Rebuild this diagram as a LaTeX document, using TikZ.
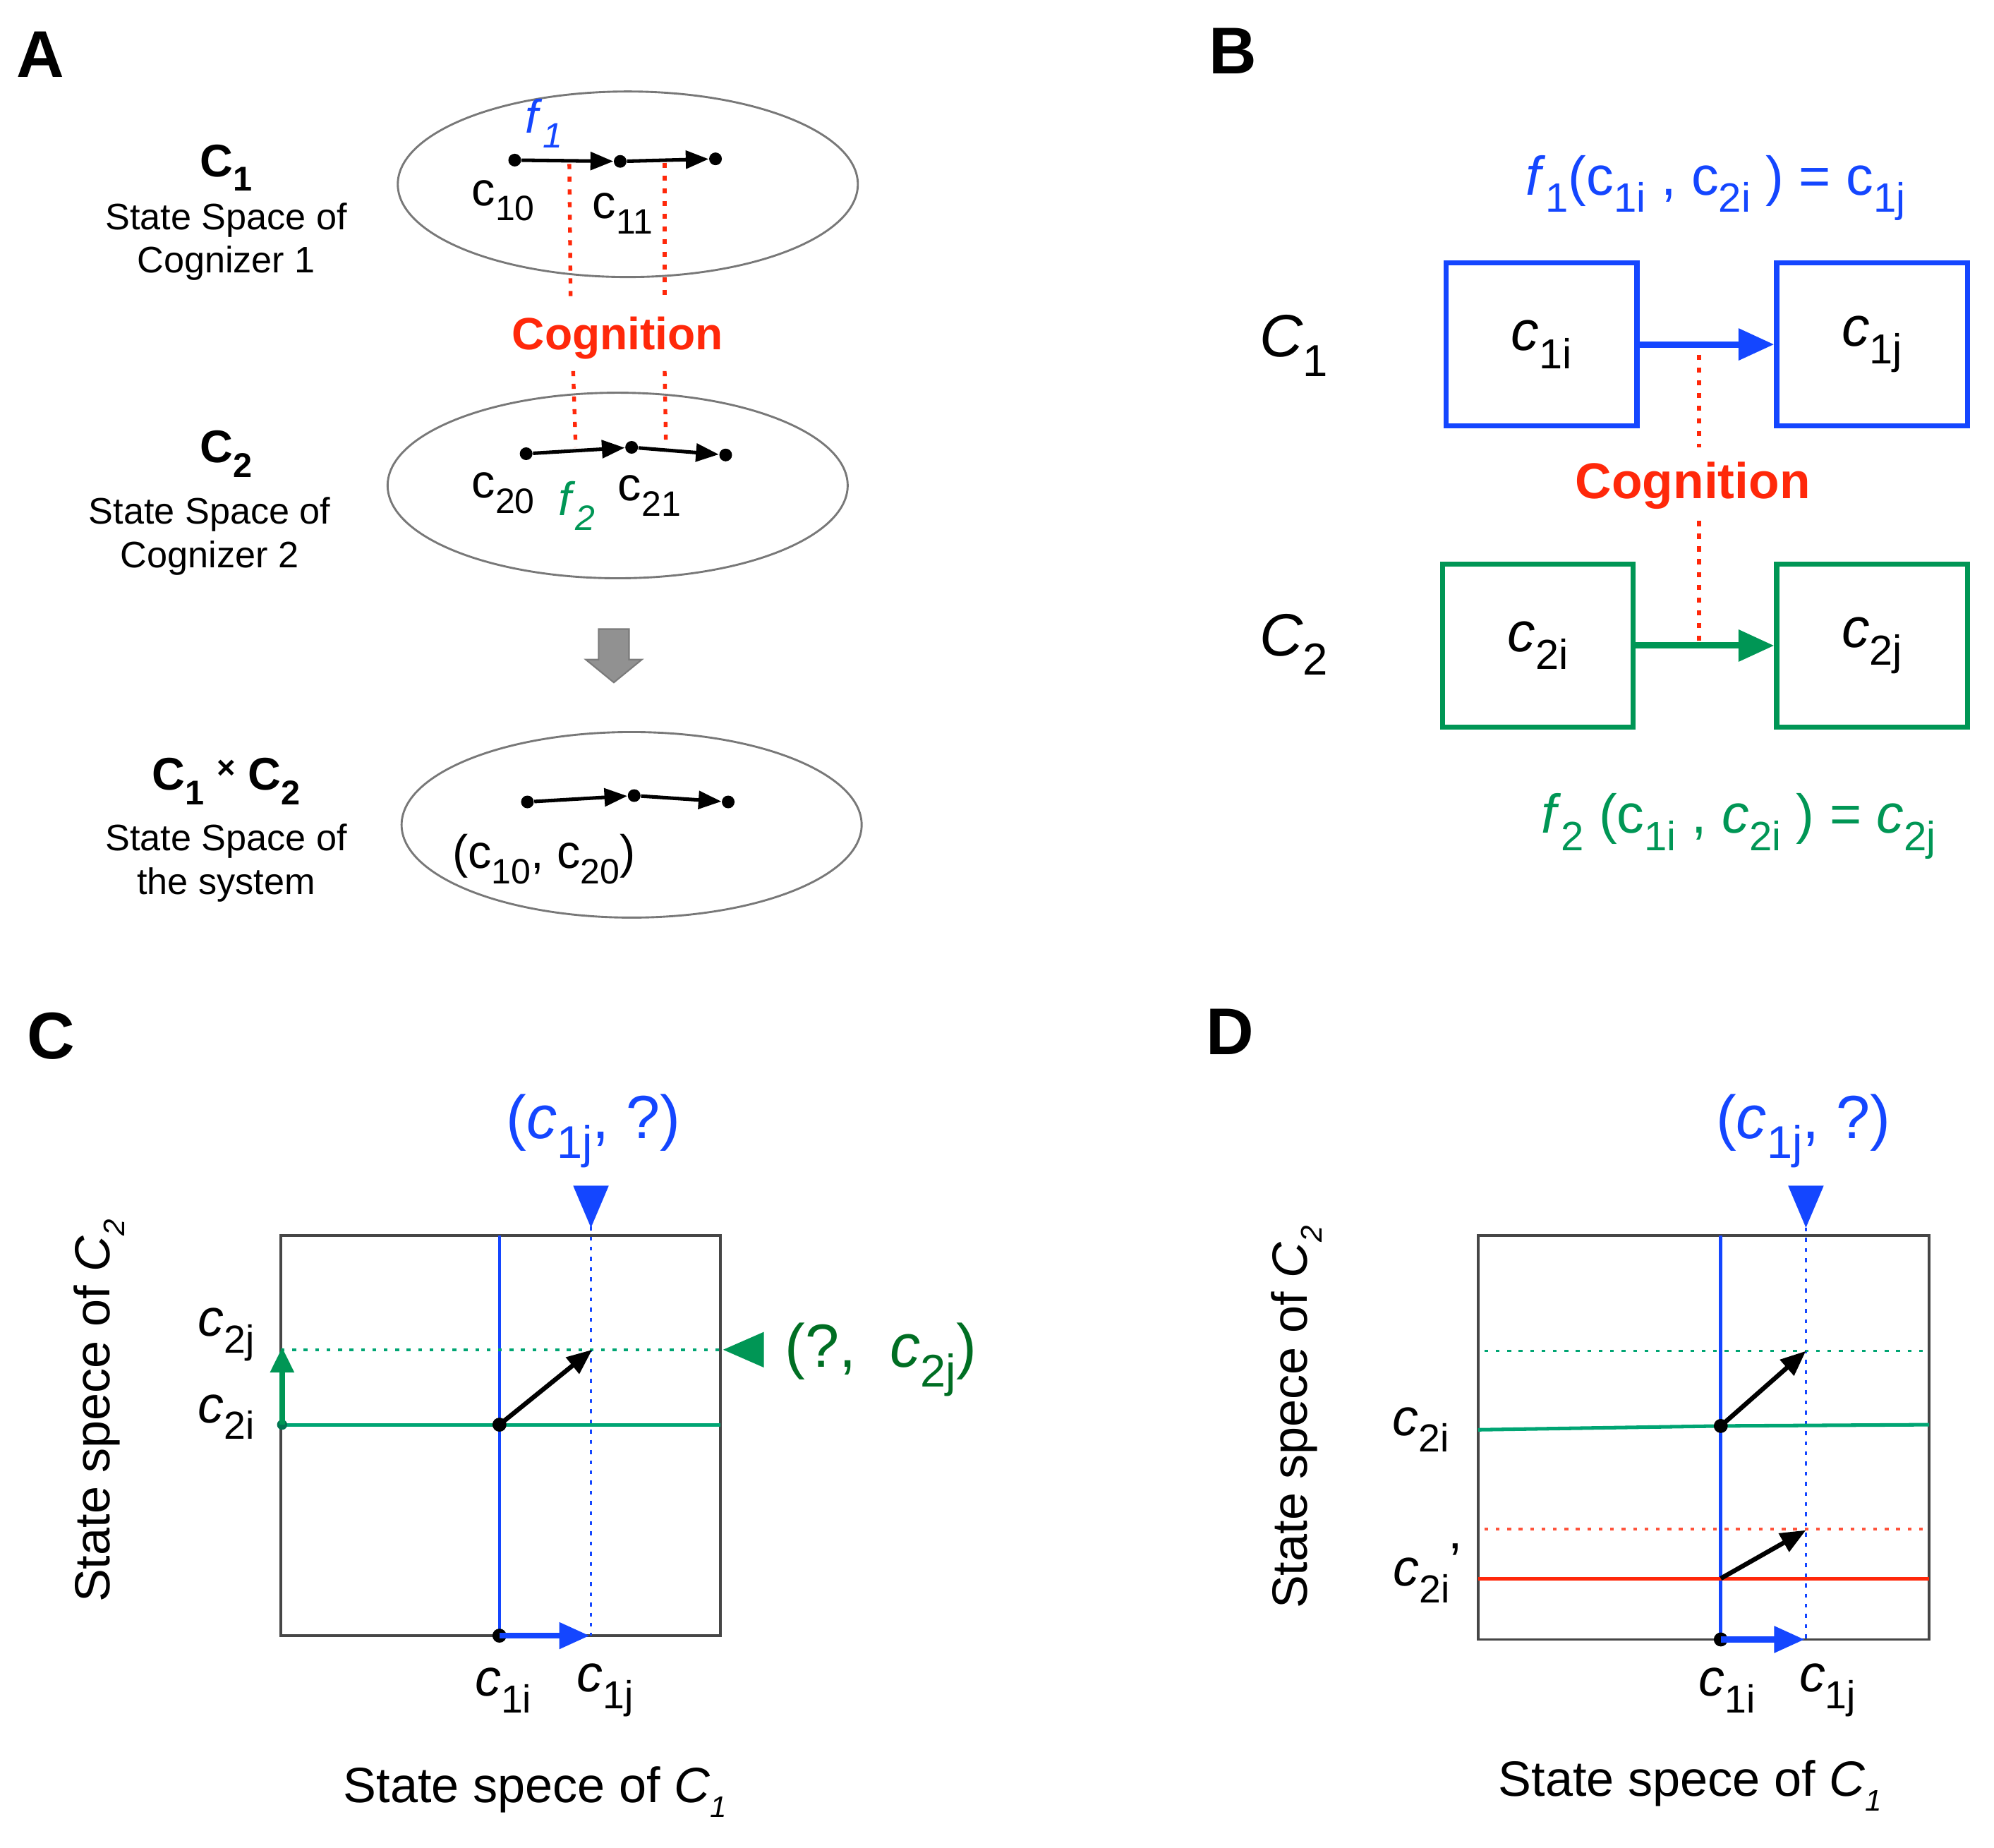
\documentclass[tikz,border=0pt]{standalone}
\usepackage{fontspec}
\setmainfont{Liberation Sans}
\usepackage{graphicx}
\usetikzlibrary{shapes.geometric,arrows.meta}
\definecolor{myblue}{RGB}{20,70,255}
\definecolor{mygreen}{RGB}{0,150,85}
\definecolor{myteal}{RGB}{0,165,115}
\definecolor{mydkgreen}{RGB}{0,110,35}
\definecolor{myred}{RGB}{255,40,10}
\definecolor{ellgray}{RGB}{120,120,120}
\definecolor{boxgray}{RGB}{70,70,70}
\definecolor{arrgray}{RGB}{145,145,145}
\newcommand{\lsb}[1]{\raisebox{-0.32em}{\scalebox{0.75}{#1}}}
\newcommand{\ssb}[1]{\raisebox{-0.3em}{\scalebox{0.6}{#1}}}
\begin{document}
\begin{tikzpicture}[x=0.5pt,y=-0.5pt,
  panel/.style={font=\fontsize{26}{30}\selectfont\bfseries, inner sep=0pt},
  boldC/.style={font=\fontsize{18}{20}\selectfont\bfseries, inner sep=0pt},
  state/.style={font=\fontsize{14.5}{17}\selectfont, align=center, inner sep=0pt},
  ell/.style={draw=ellgray, line width=0.8pt, ellipse, minimum width=181pt, minimum height=73pt, inner sep=0pt},
  dot/.style={circle, fill=black, inner sep=0pt, minimum size=5pt},
  blkarr/.style={-{Triangle[length=9pt,width=7pt]}, line width=1.4pt, black},
  cogdot/.style={myred, line width=1.5pt, dash pattern=on 2pt off 3pt},
  cogA/.style={text=myred, font=\fontsize{17.8}{20}\selectfont\bfseries, inner sep=0pt},
  cogB/.style={text=myred, font=\fontsize{19.8}{22}\selectfont\bfseries, inner sep=0pt},
  stt/.style={font=\fontsize{18.5}{22}\selectfont, inner sep=0pt},
  bigC/.style={font=\fontsize{23.5}{28}\selectfont, inner sep=0pt},
  bbox/.style={draw=myblue, line width=2pt, minimum width=75pt, minimum height=64pt, font=\fontsize{22}{26}\selectfont, inner sep=0pt},
  gbox/.style={bbox, draw=mygreen},
  barr/.style={line width=2.5pt, -{Triangle[length=14pt,width=12pt]}},
  eqn/.style={font=\fontsize{21.5}{25}\selectfont, inner sep=0pt},
  axlab/.style={font=\fontsize{19.5}{23}\selectfont, inner sep=0pt},
  cl/.style={font=\fontsize{20.5}{24}\selectfont, inner sep=0pt},
  ql/.style={font=\fontsize{24}{28}\selectfont, inner sep=0pt},
  frame/.style={draw=boxgray, line width=1pt, inner sep=0pt},
  vsolid/.style={myblue, line width=1.3pt},
  vdot/.style={myblue, line width=1pt, dash pattern=on 1.5pt off 2.5pt},
  gsolid/.style={myteal, line width=1.4pt},
  gdot/.style={myteal, line width=1pt, dash pattern=on 1.5pt off 3pt},
  rsolid/.style={myred, line width=1.4pt},
  rdot/.style={myred!80, line width=1pt, dash pattern=on 1.5pt off 3pt},
  diag/.style={-{Triangle[length=10pt,width=8pt]}, line width=1.8pt, black},
  bluearr/.style={myblue, line width=2.4pt, -{Triangle[length=12pt,width=10pt]}},
  smdot/.style={circle, fill=black, inner sep=0pt, minimum size=5.5pt}
]
\useasboundingbox (0,0) rectangle (1569,1454);

% ================= Panel A =================
\node[panel] (labA) at (32,43) {A};
\node[boldC] (A1t) at (178,132) {C\lsb{1}};
\node[state] (A1s) at (178,190) {State Space of\\Cognizer 1};
\node[boldC] (A2t) at (178,357) {C\lsb{2}};
\node[state] (A2s) at (165,422) {State Space of\\Cognizer 2};
\node[boldC] (A3t) at (178,615) {C\lsb{1} \raisebox{0.25em}{\scalebox{0.7}{×}} C\lsb{2}};
\node[state] (A3s) at (178,679) {State Space of\\the system};

\node[ell] (e1) at (494,145) {};
\node[ell] (e2) at (486,382) {};
\node[ell] (e3) at (497,649) {};

\node[dot] (a1) at (405,126) {};
\node[dot] (a2) at (488,127) {};
\node[dot] (a3) at (563,125) {};
\draw[blkarr] (a1) -- (a2);
\draw[blkarr] (a2) -- (a3);
\node[stt, text=myblue] (f1A) at (428,97) {\textit{f}\lsb{\textit{1}}};
\node[stt] (c10) at (396,158) {c\lsb{10}};
\node[stt] (c11) at (490,168) {c\lsb{11}};

\node[dot] (b1) at (414,357) {};
\node[dot] (b2) at (497,352) {};
\node[dot] (b3) at (571,358) {};
\draw[blkarr] (b1) -- (b2);
\draw[blkarr] (b2) -- (b3);
\node[stt] (c20) at (396,388) {c\lsb{20}};
\node[stt, text=mygreen] (f2A) at (454,398) {\textit{f}\lsb{\textit{2}}};
\node[stt] (c21) at (511,390) {c\lsb{21}};

\node[cogA] (cogA) at (486,266) {Cognition};
\coordinate (r1a) at (448,129);
\coordinate (r1b) at (449,236);
\coordinate (r1c) at (451,292);
\coordinate (r1d) at (453,352);
\coordinate (r2a) at (523,128);
\coordinate (r2b) at (523,236);
\coordinate (r2c) at (523,292);
\coordinate (r2d) at (524,349);
\draw[cogdot] (r1a) -- (r1b);
\draw[cogdot] (r1c) -- (r1d);
\draw[cogdot] (r2a) -- (r2b);
\draw[cogdot] (r2c) -- (r2d);

\filldraw[fill=arrgray, draw=arrgray!85!black, line width=0.6pt]
  (471,495) -- (495,495) -- (495,519) -- (505,519) -- (483,537) -- (461,519) -- (471,519) -- cycle;

\node[dot] (d1) at (415,631) {};
\node[dot] (d2) at (499,626) {};
\node[dot] (d3) at (573,631) {};
\draw[blkarr] (d1) -- (d2);
\draw[blkarr] (d2) -- (d3);
\node[stt] (c1020) at (428,676) {(c\lsb{10}, c\lsb{20})};

% ================= Panel B =================
\node[panel] (labB) at (970,40) {B};
\node[eqn, text=myblue] (f1B) at (1350,148) {\textit{f}\lsb{1}(c\lsb{1i} , c\lsb{2i} ) = c\lsb{1j}};
\node[bigC] (B1) at (1018,272) {\textit{C}\lsb{1}};
\node[bigC] (B2) at (1018,507) {\textit{C}\lsb{2}};
\node[bbox] (c1i) at (1213,271) {\textit{c}\lsb{1i}};
\node[bbox] (c1j) at (1473,271) {\textit{c}\lsb{1j}};
\node[gbox] (c2i) at (1210,508) {\textit{c}\lsb{2i}};
\node[gbox] (c2j) at (1473,508) {\textit{c}\lsb{2j}};
\draw[barr, myblue] (c1i) -- (c1j);
\draw[barr, mygreen] (c2i) -- (c2j);
\node[cogB] (cogB) at (1332,382) {Cognition};
\coordinate (rb1) at (1337,279);
\coordinate (rb2) at (1337,352);
\coordinate (rb3) at (1337,410);
\coordinate (rb4) at (1337,504);
\draw[cogdot] (rb1) -- (rb2);
\draw[cogdot] (rb3) -- (rb4);
\node[eqn, text=mygreen] (f2B) at (1368,650) {\textit{f}\lsb{2} (c\lsb{1i} , \textit{c}\lsb{2i} ) = \textit{c}\lsb{2j}};

% ================= Panel C =================
\node[panel] (labC) at (40,815) {C};
\node[frame, minimum width=173pt, minimum height=157.5pt] (boxC) at (394,1129.5) {};
\coordinate (Ct1) at (393,972);
\coordinate (Cb1) at (393,1287);
\coordinate (Ct2) at (465,965);
\coordinate (Cb2) at (465,1287);
\coordinate (Cl1) at (221,1121);
\coordinate (Cr1) at (567,1121);
\coordinate (Cl2) at (221,1062);
\coordinate (Cr2) at (567,1062);
\draw[vsolid] (Ct1) -- (Cb1);
\draw[vdot] (Ct2) -- (Cb2);
\draw[gsolid] (Cl1) -- (Cr1);
\draw[gdot] (Cl2) -- (Cr2);
\fill[myblue] (465,966) -- (451,933) -- (479,933) -- cycle;
\fill[mygreen] (569,1062) -- (601,1048) -- (601,1076) -- cycle;
\node[ql, text=myblue] (qC1) at (467,890) {(\textit{c}\lsb{1j}, ?)};
\node[ql, text=mydkgreen] (qC2) at (693,1070) {(?, \ \textit{c}\lsb{2j})};
\node[circle, fill=myteal!70!black, inner sep=0pt, minimum size=4pt] (gC0) at (222,1121) {};
\coordinate (gC1) at (222,1060);
\draw[mygreen, line width=2.2pt, -{Triangle[length=10pt,width=9pt]}] (gC0.center) -- (gC1);
\node[cl] (Lc2j) at (178,1050) {\textit{c}\lsb{2j}};
\node[cl] (Lc2i) at (178,1115) {\textit{c}\lsb{2i}};
\node[smdot] (pC) at (393,1121) {};
\coordinate (pC2) at (466,1062);
\draw[diag] (pC.center) -- (pC2);
\node[smdot] (oC) at (393,1287) {};
\coordinate (oC2) at (464,1287);
\draw[bluearr] (oC.center) -- (oC2);
\node[cl] (Lc1i) at (396,1330) {\textit{c}\lsb{1i}};
\node[cl] (Lc1j) at (476,1330) {\textit{c}\lsb{1j}};
\node[axlab] (xC) at (421,1410) {State spece of \textit{C}\ssb{\textit{1}}};
\node[axlab, rotate=90] (yC) at (78,1110) {State spece of \textit{C}\ssb{\textit{2}}};

% ================= Panel D =================
\node[panel] (labD) at (968,812) {D};
\node[frame, minimum width=177.5pt, minimum height=159pt] (boxD) at (1340.5,1131) {};
\coordinate (Dt1) at (1354,972);
\coordinate (Db1) at (1354,1290);
\coordinate (Dt2) at (1421,966);
\coordinate (Db2) at (1421,1290);
\draw[vsolid] (Dt1) -- (Db1);
\draw[vdot] (Dt2) -- (Db2);
\coordinate (Dgl) at (1168,1063);
\coordinate (Dgr) at (1518,1063);
\draw[gdot] (Dgl) -- (Dgr);
\coordinate (Dsl) at (1163,1125);
\coordinate (Dsm) at (1354,1122);
\coordinate (Dsr) at (1518,1121);
\draw[gsolid] (Dsl) -- (Dsm) -- (Dsr);
\coordinate (Drl) at (1168,1203);
\coordinate (Drr) at (1518,1203);
\draw[rdot] (Drl) -- (Drr);
\coordinate (DRl) at (1163,1242);
\coordinate (DRr) at (1518,1242);
\draw[rsolid] (DRl) -- (DRr);
\fill[myblue] (1421,966) -- (1407,933) -- (1435,933) -- cycle;
\node[ql, text=myblue] (qD1) at (1419,890) {(\textit{c}\lsb{1j}, ?)};
\node[smdot] (pD) at (1354,1122) {};
\coordinate (pD2) at (1421,1063);
\draw[diag] (pD.center) -- (pD2);
\coordinate (qD) at (1354,1242);
\coordinate (qD2) at (1421,1204);
\draw[diag] (qD) -- (qD2);
\node[smdot] (oD) at (1354,1290) {};
\coordinate (oD2) at (1420,1290);
\draw[bluearr] (oD.center) -- (oD2);
\node[cl] (Mc2i) at (1118,1125) {\textit{c}\lsb{2i}};
\node[cl, anchor=base] (Mc2ip) at (1123,1248) {\textit{c}\lsb{2i}\raisebox{0.12em}{’}};
\node[cl] (Mc1i) at (1359,1330) {\textit{c}\lsb{1i}};
\node[cl] (Mc1j) at (1438,1330) {\textit{c}\lsb{1j}};
\node[axlab] (xD) at (1330,1405) {State spece of \textit{C}\ssb{\textit{1}}};
\node[axlab, rotate=90] (yD) at (1020,1115) {State spece of \textit{C}\ssb{\textit{2}}};
\end{tikzpicture}
\end{document}
